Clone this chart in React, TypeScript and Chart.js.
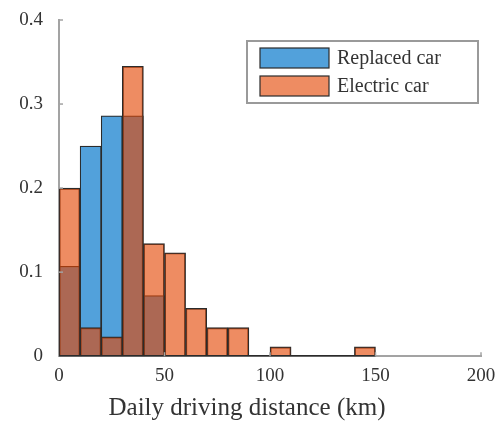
import React, { useEffect, useRef } from "react";
import { Chart, registerables } from "chart.js";

Chart.register(...registerables);

// Histogram bins: 10 km wide, centred on these distances
const binCenters = [5, 15, 25, 35, 45, 55, 65, 75, 85, 95, 105, 115, 125, 135, 145];
const binWidth = 10;

const seriesLabels = ["Replaced car", "Electric car"];
const xTitle = "Daily driving distance (km)";

// Share of trips per bin
const replacedCar = [0.107, 0.25, 0.286, 0.286, 0.072];
const electricCar = [0.2, 0.034, 0.023, 0.345, 0.134, 0.123, 0.057, 0.034, 0.034, 0, 0.011, 0, 0, 0, 0.011];

const xTicks = [0, 50, 100, 150, 200];
const yTicks = [0, 0.1, 0.2, 0.3, 0.4];

const blueFill = "#52a1db";
const orangeFill = "rgba(228, 70, 2, 0.62)";
const edgeColor = "#2b2b2b";
const axisColor = "#a3a3a3";
const textColor = "#333333";
const fontFamily = "'Liberation Serif', 'Times New Roman', serif";

const toPoints = (vals: number[]) => vals.map((y, i) => ({ x: binCenters[i], y }));

const histogramDecor = {
  id: "histogramDecor",
  afterDatasetsDraw(chart: any) {
    const { ctx, chartArea, scales } = chart;
    const xs = scales.x;
    const ys = scales.y;
    ctx.save();
    // dark baseline under the electric-car bins (including empty ones)
    const lastEdge = binCenters[electricCar.length - 1] + binWidth / 2;
    const firstEdge = binCenters[0] - binWidth / 2;
    ctx.strokeStyle = edgeColor;
    ctx.lineWidth = 1.5;
    ctx.beginPath();
    ctx.moveTo(xs.getPixelForValue(firstEdge), ys.getPixelForValue(0) - 0.5);
    ctx.lineTo(xs.getPixelForValue(lastEdge), ys.getPixelForValue(0) - 0.5);
    ctx.stroke();

    // short inward tick marks
    ctx.strokeStyle = axisColor;
    ctx.lineWidth = 1.5;
    yTicks.slice(1).forEach((v) => {
      const y = ys.getPixelForValue(v);
      ctx.beginPath();
      ctx.moveTo(chartArea.left, y);
      ctx.lineTo(chartArea.left + 4, y);
      ctx.stroke();
    });
    xTicks.slice(1).forEach((v) => {
      const x = xs.getPixelForValue(v);
      ctx.beginPath();
      ctx.moveTo(x, chartArea.bottom);
      ctx.lineTo(x, chartArea.bottom - 4);
      ctx.stroke();
    });

    // x-axis title
    ctx.fillStyle = textColor;
    ctx.font = `25px ${fontFamily}`;
    ctx.textAlign = "center";
    ctx.textBaseline = "alphabetic";
    ctx.fillText(xTitle, chartArea.left + 188, chartArea.bottom + 59);

    // legend box in the upper right
    const boxW = 231;
    const boxH = 62;
    const left = chartArea.right - 3 - boxW;
    const top = chartArea.top + 21;
    ctx.fillStyle = "#ffffff";
    ctx.fillRect(left, top, boxW, boxH);
    ctx.strokeStyle = "#9a9a9a";
    ctx.lineWidth = 2;
    ctx.strokeRect(left, top, boxW, boxH);

    const fills = [blueFill, orangeFill];
    const rowTops = [top + 7, top + 35];
    ctx.font = `20px ${fontFamily}`;
    ctx.textBaseline = "middle";
    ctx.textAlign = "left";
    seriesLabels.forEach((label, i) => {
      const sx = left + 13;
      const sy = rowTops[i];
      ctx.fillStyle = fills[i];
      ctx.fillRect(sx, sy, 69, 20);
      ctx.strokeStyle = edgeColor;
      ctx.lineWidth = 1.2;
      ctx.strokeRect(sx, sy, 69, 20);
      ctx.fillStyle = textColor;
      ctx.fillText(label, sx + 77, sy + 11);
    });
    ctx.restore();
  },
};

export default function App() {
  const canvasRef = useRef<HTMLCanvasElement | null>(null);

  useEffect(() => {
    document.body.style.margin = "0";
    const canvas = canvasRef.current;
    if (!canvas) return;
    const chart = new Chart(canvas, {
      type: "bar",
      data: {
        datasets: [
          {
            label: seriesLabels[0],
            data: toPoints(replacedCar),
            backgroundColor: blueFill,
            borderColor: edgeColor,
            borderWidth: 1.2,
            borderSkipped: "start",
            order: 2,
          },
          {
            label: seriesLabels[1],
            data: toPoints(electricCar),
            backgroundColor: orangeFill,
            borderColor: edgeColor,
            borderWidth: 1.2,
            borderSkipped: "start",
            order: 1,
          },
        ],
      },
      plugins: [histogramDecor],
      options: {
        animation: false,
        responsive: false,
        maintainAspectRatio: false,
        devicePixelRatio: 1,
        layout: { padding: { left: 16, right: 14, top: 20, bottom: 33 } },
        datasets: {
          bar: {
            grouped: false,
            barPercentage: 1,
            categoryPercentage: 1,
          },
        },
        plugins: {
          legend: { display: false },
          tooltip: { enabled: false },
        },
        scales: {
          x: {
            type: "linear",
            min: 0,
            max: 200,
            offset: false,
            afterBuildTicks: (axis: any) => {
              axis.ticks = xTicks.map((value) => ({ value }));
            },
            afterFit: (axis: any) => {
              axis.paddingLeft = 0;
              axis.paddingRight = 0;
            },
            grid: { display: false, drawTicks: false },
            border: { display: true, color: axisColor, width: 2 },
            ticks: {
              color: textColor,
              font: { family: fontFamily, size: 19 },
              padding: 8,
              maxRotation: 0,
            },
          },
          y: {
            min: 0,
            max: 0.4,
            afterBuildTicks: (axis: any) => {
              axis.ticks = yTicks.map((value) => ({ value }));
            },
            afterFit: (axis: any) => {
              axis.paddingTop = 0;
              axis.paddingBottom = 0;
              axis.width = 43;
            },
            grid: { display: false, drawTicks: false },
            border: { display: true, color: axisColor, width: 2 },
            ticks: {
              color: textColor,
              font: { family: fontFamily, size: 19 },
              padding: 16,
              callback: (v: any) => String(v),
            },
          },
        },
      },
    });
    return () => chart.destroy();
  }, []);

  return (
    <div style={{ width: 495, height: 428, background: "#fff" }}>
      <canvas ref={canvasRef} width={495} height={428} />
    </div>
  );
}
